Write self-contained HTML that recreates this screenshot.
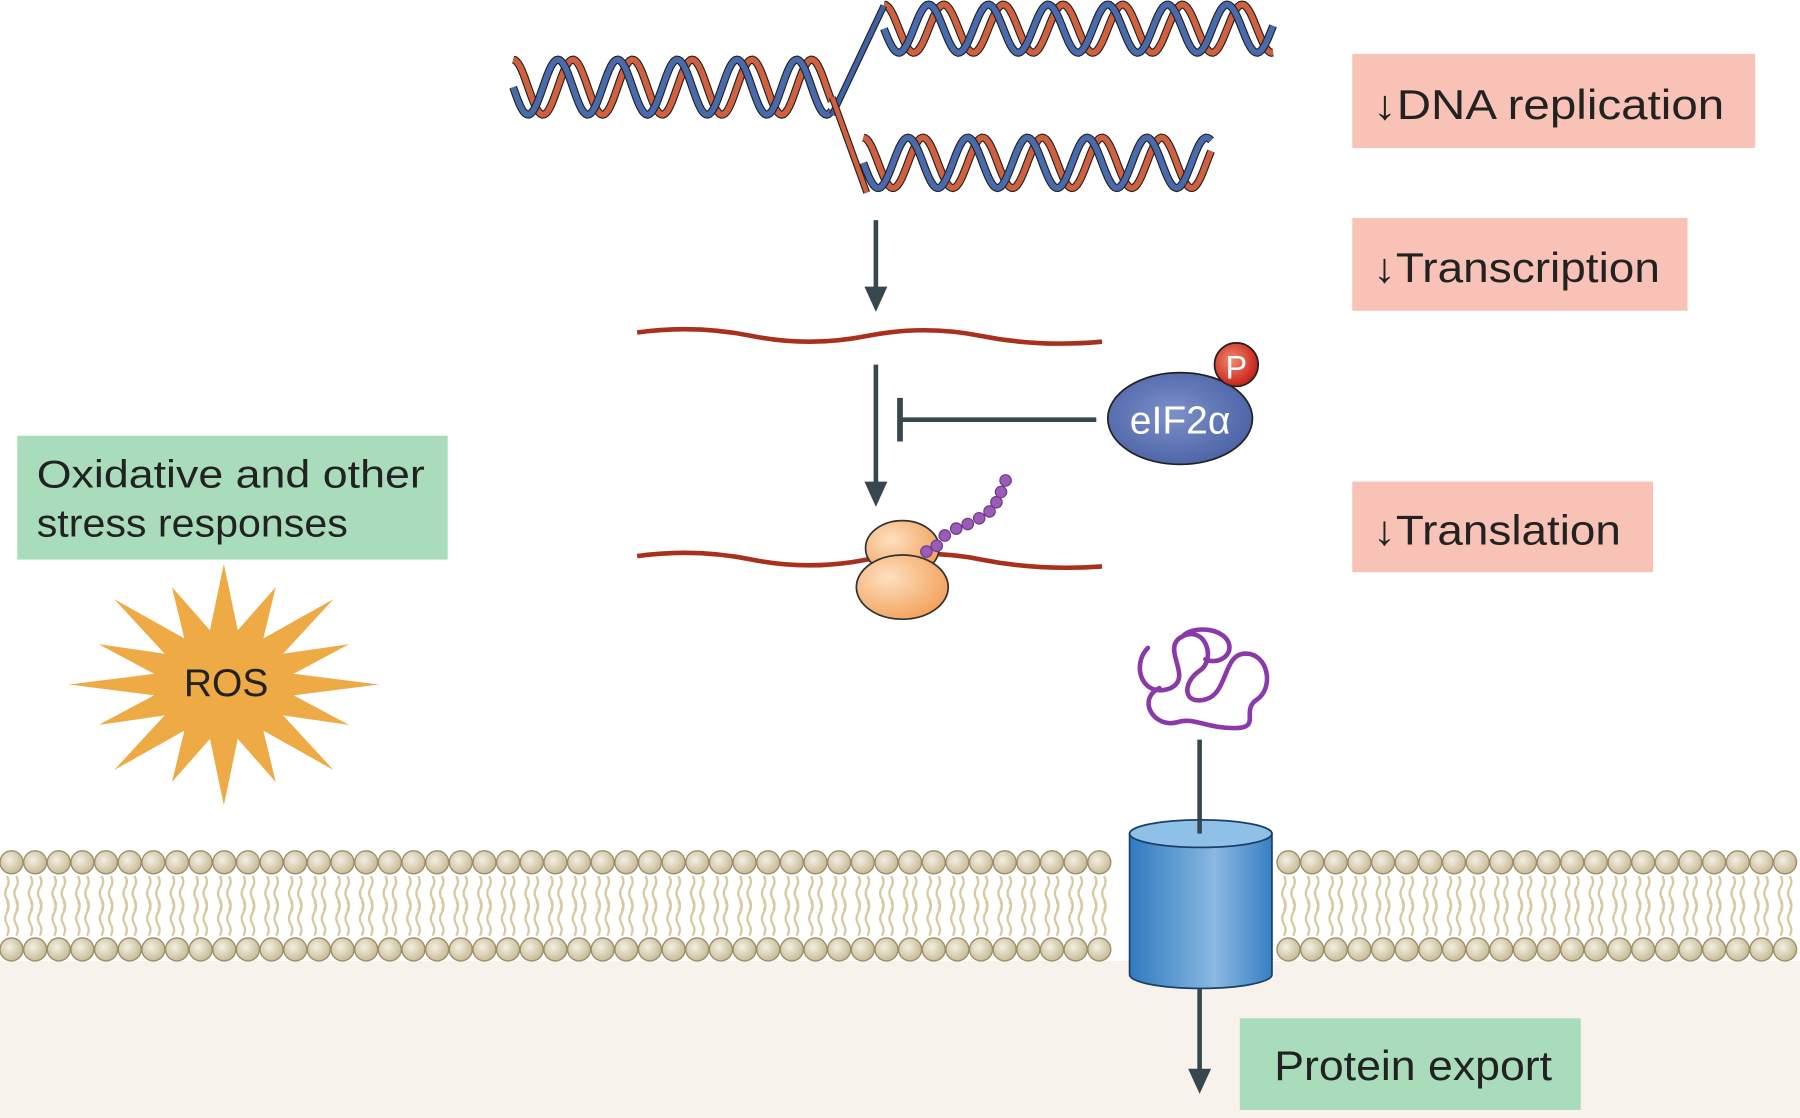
<!DOCTYPE html>
<html><head><meta charset="utf-8"><style>
html,body{margin:0;padding:0;background:#fff;}
svg{display:block}
text{font-family:"Liberation Sans",sans-serif;}
</style></head><body>
<svg id="s" width="1800" height="1118" viewBox="0 0 1568 975" preserveAspectRatio="none" xmlns="http://www.w3.org/2000/svg">
<defs>
<radialGradient id="head" cx="40%" cy="40%" r="60%"><stop offset="0" stop-color="#f3efe3"/><stop offset="1" stop-color="#c9bc98"/></radialGradient>
<radialGradient id="orb" cx="35%" cy="35%" r="70%"><stop offset="0" stop-color="#fde0c0"/><stop offset="1" stop-color="#f3a25c"/></radialGradient>
<radialGradient id="eif" cx="45%" cy="45%" r="60%"><stop offset="0" stop-color="#7d90c8"/><stop offset="1" stop-color="#4a62a6"/></radialGradient>
<radialGradient id="pp" cx="40%" cy="40%" r="60%"><stop offset="0" stop-color="#f08a70"/><stop offset="1" stop-color="#c8231a"/></radialGradient>
<linearGradient id="cyl" x1="0" x2="1"><stop offset="0" stop-color="#2f7bc0"/><stop offset="0.6" stop-color="#8ab8e2"/><stop offset="1" stop-color="#3580c4"/></linearGradient>
</defs>
<rect x="0" y="838" width="1568" height="137" fill="#f8f2ec"/>
<g id="mem"></g>
<g id="dna"></g>
<rect x="1178" y="47" width="351" height="82" fill="#f8c2b6"/>
<text x="1196" y="104" font-size="36" fill="#222" textLength="306" lengthAdjust="spacingAndGlyphs">↓DNA replication</text>
<rect x="1178" y="190" width="292" height="81" fill="#f8c2b6"/>
<text x="1196" y="246" font-size="36" fill="#222" textLength="250" lengthAdjust="spacingAndGlyphs">↓Transcription</text>
<rect x="1178" y="420" width="262" height="79" fill="#f8c2b6"/>
<text x="1196" y="475" font-size="36" fill="#222" textLength="216" lengthAdjust="spacingAndGlyphs">↓Translation</text>
<rect x="15" y="380" width="375" height="108" fill="#a9dcbb"/>
<text x="32" y="425" font-size="34" fill="#222" textLength="338" lengthAdjust="spacingAndGlyphs">Oxidative and other</text>
<text x="32" y="468" font-size="34" fill="#222" textLength="271" lengthAdjust="spacingAndGlyphs">stress responses</text>
<rect x="1080" y="888" width="297" height="80" fill="#a9dcbb"/>
<text x="1110" y="942" font-size="36" fill="#222" textLength="242" lengthAdjust="spacingAndGlyphs">Protein export</text>
<polygon id="star" fill="#eeaa44"/>
<text x="197" y="607" font-size="34" fill="#222" text-anchor="middle">ROS</text>
<g stroke="#37474f" stroke-width="4" fill="#37474f">
<line x1="763" y1="192" x2="763" y2="255"/><polygon points="753,250 773,250 763,272" stroke="none"/>
<line x1="763" y1="318" x2="763" y2="425"/><polygon points="753,420 773,420 763,442" stroke="none"/>
<line x1="955" y1="366" x2="784" y2="366"/><line x1="784" y1="347" x2="784" y2="385" stroke-width="5"/>
<line x1="1045" y1="645" x2="1045" y2="727"/>
<line x1="1045" y1="860" x2="1045" y2="935"/><polygon points="1035,932 1055,932 1045,954" stroke="none"/>
</g>
<path d="M555,290 Q605,283 655,293 T755,293 T855,293 T960,298" fill="none" stroke="#a8301e" stroke-width="4"/>
<path d="M555,485 Q605,478 655,488 T755,488 T855,488 T960,494" fill="none" stroke="#a8301e" stroke-width="4"/>
<ellipse cx="786" cy="478" rx="32" ry="24" fill="url(#orb)" stroke="#333" stroke-width="1.5"/>
<ellipse cx="786" cy="512" rx="40" ry="28" fill="url(#orb)" stroke="#333" stroke-width="1.5"/>
<g id="beads" fill="#9b5cb8" stroke="#6a3a8a" stroke-width="1"></g>
<ellipse cx="1028" cy="365" rx="63" ry="40" fill="url(#eif)" stroke="#222" stroke-width="1.5"/>
<text x="1028" y="378" font-size="34" fill="#fff" text-anchor="middle">eIF2α</text>
<circle cx="1077" cy="318" r="19" fill="url(#pp)" stroke="#222" stroke-width="1.5"/>
<text x="1077" y="330" font-size="28" fill="#fff" text-anchor="middle">P</text>
<path d="M1000,565 C985,580 995,610 1020,600 C1040,590 1010,565 1030,555 C1050,545 1060,575 1045,585 C1030,595 1030,615 1050,610 C1070,605 1065,570 1085,570 C1105,570 1110,600 1095,610 C1080,620 1100,635 1075,635 C1050,635 1040,625 1025,630 C1005,635 990,610 1010,600 M1030,555 C1040,545 1065,548 1070,560 C1075,572 1060,580 1050,575" fill="none" stroke="#8a3aa8" stroke-width="4" stroke-linecap="round"/>
<path d="M984,727 L984,850 A62,12 0 0 0 1108,850 L1108,727 Z" fill="url(#cyl)" stroke="#1d3f66" stroke-width="1.5"/>
<ellipse cx="1046" cy="727" rx="62" ry="12" fill="#8fc0e8" stroke="#1d3f66" stroke-width="1.5"/>
<line x1="1045" y1="715" x2="1045" y2="727" stroke="#37474f" stroke-width="4"/>
</svg>
<script>
var NS="http://www.w3.org/2000/svg";
function el(p,t,a){var e=document.createElementNS(NS,t);for(var k in a)e.setAttribute(k,a[k]);p.appendChild(e);return e;}
var m=document.getElementById('mem');
for(var x=10;x<1570;x+=20.6){
 if(x>975&&x<1115)continue;
 [x-4,x+4].forEach(function(cx){
  el(m,'path',{d:'M'+cx+',764 q3,5 0,10 t0,10 t0,10',fill:'none',stroke:'#d8c9a0','stroke-width':2});
  el(m,'path',{d:'M'+cx+',786 q3,5 0,10 t0,10 t0,10',fill:'none',stroke:'#d8c9a0','stroke-width':2});});
 el(m,'circle',{cx:x,cy:752,r:10,fill:'url(#head)',stroke:'#9c8e68','stroke-width':1.2});
 el(m,'circle',{cx:x,cy:828,r:10,fill:'url(#head)',stroke:'#9c8e68','stroke-width':1.2});
}
var d=document.getElementById('dna');
function helix(x0,x1,yc,amp,per){
 var cols=['#d0603e','#4a6aae'];
 var offs=[0,0.25];
 offs.forEach(function(o,i){
  var pts=[];for(var x=x0;x<=x1;x+=1.5){var y=yc-amp*Math.cos(2*Math.PI*((x-x0)/per+o));pts.push(x.toFixed(1)+','+y.toFixed(1));}
  el(d,'polyline',{points:pts.join(' '),fill:'none',stroke:'#222','stroke-width':7});
  el(d,'polyline',{points:pts.join(' '),fill:'none',stroke:cols[i],'stroke-width':5});
 });
}
helix(447,725,76,24,52);
helix(770,1110,25,21,52);
helix(752,1055,142,22,52);
el(d,'path',{d:'M725,100 L770,5',stroke:'#222','stroke-width':6,fill:'none'});
el(d,'path',{d:'M725,100 L770,5',stroke:'#3f62a6','stroke-width':4,fill:'none'});
el(d,'path',{d:'M725,85 L755,168',stroke:'#222','stroke-width':6,fill:'none'});
el(d,'path',{d:'M725,85 L755,168',stroke:'#d0603e','stroke-width':4,fill:'none'});
var b=document.getElementById('beads');
var bp=[[807,481],[816,476],[823,467],[833,461],[843,457],[853,452],[862,446],[868,438],[872,429],[876,419]];
for(var i=0;i<bp.length;i++)el(b,'circle',{cx:bp[i][0],cy:bp[i][1],r:5});
var st=document.getElementById('star'),p=[],n=16;
for(var i=0;i<2*n;i++){var r=i%2==0?(i%4==0?135:118):62;var a=Math.PI*i/n-Math.PI/2;p.push((195+r*Math.cos(a)).toFixed(1)+','+(597+r*0.78*Math.sin(a)).toFixed(1));}
st.setAttribute('points',p.join(' '));
</script>
</body></html>
